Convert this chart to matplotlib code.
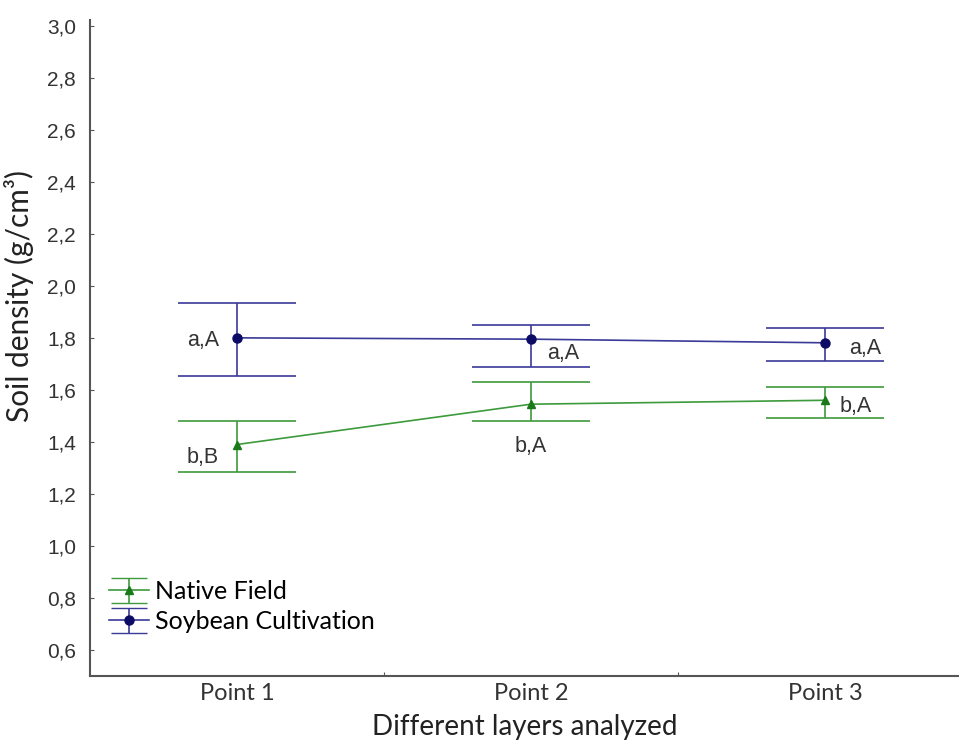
import numpy as np
import matplotlib
matplotlib.use("Agg")
import matplotlib.pyplot as plt

points = ["Point 1", "Point 2", "Point 3"]

native_mean = [1.39, 1.545, 1.56]
native_low = [1.285, 1.481, 1.491]
native_high = [1.48, 1.631, 1.612]

soy_mean = [1.80, 1.795, 1.781]
soy_low = [1.653, 1.688, 1.712]
soy_high = [1.933, 1.849, 1.836]

native_letters = ["b,B", "b,A", "b,A"]
soy_letters = ["a,A", "a,A", "a,A"]

yticks = [0.6, 0.8, 1.0, 1.2, 1.4, 1.6, 1.8, 2.0, 2.2, 2.4, 2.6, 2.8, 3.0]

green = "#3d9a3d"
green_dark = "#1a7a1a"
blue = "#3a3a98"
blue_dark = "#0c0c66"

fig = plt.figure(figsize=(9.59, 7.42), dpi=100)
ax = fig.add_axes([90 / 959, 66 / 742, 869 / 959, 656 / 742])

x = np.arange(1, len(points) + 1)
half = 0.2


def draw_series(mean, low, high, color, mcolor, marker, ms):
    mean = np.array(mean)
    low = np.array(low)
    high = np.array(high)
    ax.plot(x, mean, color=color, lw=1.2, zorder=2)
    ax.vlines(x, low, high, color=color, lw=1.2, zorder=2)
    ax.hlines(low, x - half, x + half, color=color, lw=1.2, zorder=2)
    ax.hlines(high, x - half, x + half, color=color, lw=1.2, zorder=2)
    ax.plot(x, mean, ls="none", marker=marker, ms=ms, color=mcolor, zorder=3)


draw_series(native_mean, native_low, native_high, green, green_dark, "^", 6)
draw_series(soy_mean, soy_low, soy_high, blue, blue_dark, "o", 6.5)

# legend handles (errorbar glyphs)
h1 = ax.errorbar([np.nan], [np.nan], yerr=[[0.1], [0.1]], color=green, mfc=green_dark,
                 mec=green_dark, marker="^", ms=6, lw=1.2, capsize=13, label="Native Field")
h2 = ax.errorbar([np.nan], [np.nan], yerr=[[0.1], [0.1]], color=blue, mfc=blue_dark,
                 mec=blue_dark, marker="o", ms=6.5, lw=1.2, capsize=13, label="Soybean Cultivation")

# significance letters
text_kw = dict(textcoords="offset pixels", fontsize=15.5, color="#333333",
               family="Liberation Sans", va="center")
offs_soy = [(-18, -3, "right"), (16, -14, "left"), (24, -6, "left")]
offs_nat = [(-18, -13, "right"), (0, -42, "center"), (15, -6, "left")]
for i in range(len(points)):
    dx, dy, ha = offs_soy[i]
    ax.annotate(soy_letters[i], (x[i], soy_mean[i]), xytext=(dx, dy), ha=ha, **text_kw)
    dx, dy, ha = offs_nat[i]
    ax.annotate(native_letters[i], (x[i], native_mean[i]), xytext=(dx, dy), ha=ha, **text_kw)

ax.set_xlim(0.5, 0.5 + 869 / 294)
ax.set_ylim(0.5, 3.022)

ax.set_yticks(yticks)
ax.set_yticklabels([("%.1f" % v).replace(".", ",") for v in yticks],
                   family="Liberation Sans", fontsize=15, color="#333333")
ax.set_xticks([1.5, 2.5])
ax.set_xticklabels([])
ax.set_xticks(x, minor=True)
ax.set_xticklabels(points, minor=True, family="Lato", fontsize=17, color="#333333")
ax.tick_params(axis="x", which="minor", length=0, pad=5)
ax.tick_params(axis="both", which="major", direction="in", length=3, width=0.8, color="#555555")
ax.tick_params(axis="y", pad=10)

for s in ["top", "right"]:
    ax.spines[s].set_visible(False)
for s in ["left", "bottom"]:
    ax.spines[s].set_color("#555555")
    ax.spines[s].set_linewidth(1.5)

ax.set_ylabel("Soil density (g/cm³)", family="Lato", fontsize=21.5, color="#222222")
ax.yaxis.set_label_coords(-0.064, 0.58)
ax.set_xlabel("Different layers analyzed", family="Lato", fontsize=20, color="#222222", labelpad=7)

ax.legend(handles=[h1, h2], loc="upper left", bbox_to_anchor=(-0.01, 0.188), frameon=False,
          prop={"family": "Lato", "size": 18}, handlelength=1.6, handletextpad=0.25,
          labelspacing=0.28, borderpad=0.6)

fig.savefig("out.png", dpi=100)
